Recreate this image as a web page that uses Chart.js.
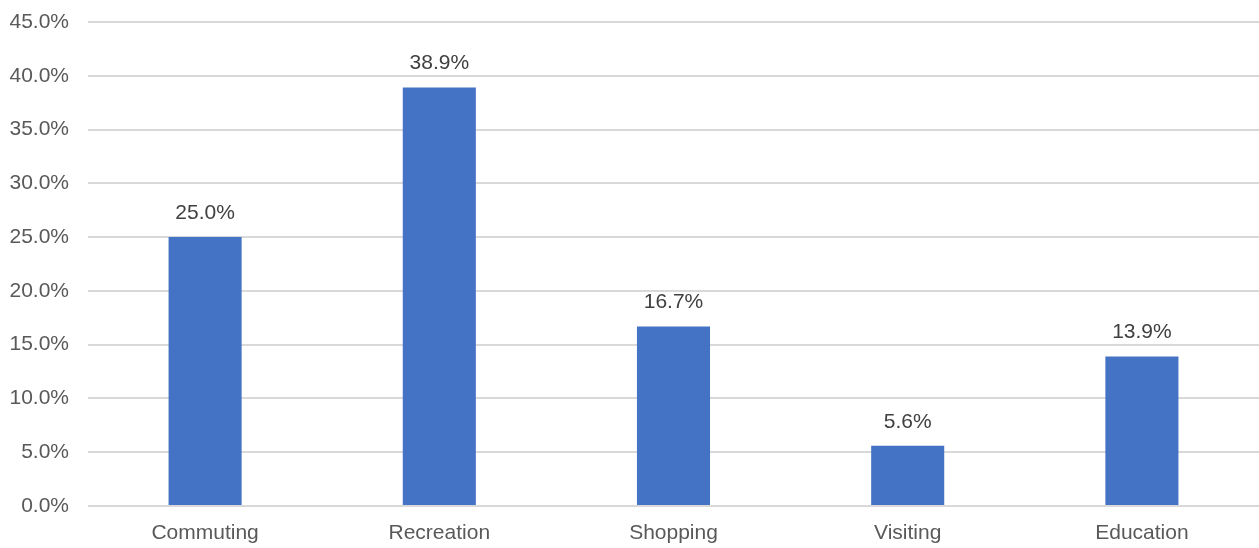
<!DOCTYPE html>
<html>
<head>
<meta charset="utf-8">
<script src="https://cdn.jsdelivr.net/npm/chart.js@4/dist/chart.umd.min.js"></script>
<style>
  html, body { margin: 0; padding: 0; background: #fff; }
  #wrap { width: 1259px; height: 548px; }
</style>
</head>
<body>
<div id="wrap"><canvas id="barChart"></canvas></div>
<script>
// Chart data
const categories = ['Commuting', 'Recreation', 'Shopping', 'Visiting', 'Education'];
const shares = [25.0, 38.9, 16.7, 5.6, 13.9];
const yTicks = [0, 5, 10, 15, 20, 25, 30, 35, 40, 45];

const fontFamily = '"Liberation Sans", Arial, sans-serif';

// Draw the value labels above each bar
const valueLabels = {
  id: 'valueLabels',
  afterDatasetsDraw(chart) {
    const ctx = chart.ctx;
    const meta = chart.getDatasetMeta(0);
    ctx.save();
    ctx.font = '21px ' + fontFamily;
    ctx.fillStyle = '#404040';
    ctx.textAlign = 'center';
    ctx.textBaseline = 'middle';
    meta.data.forEach((bar, i) => {
      ctx.fillText(shares[i].toFixed(1) + '%', bar.x, bar.y - 24);
    });
    ctx.restore();
  }
};

const ctx = document.getElementById('barChart').getContext('2d');
new Chart(ctx, {
  type: 'bar',
  data: {
    labels: categories,
    datasets: [{
      data: shares,
      backgroundColor: '#4472C4',
      borderWidth: 0,
      barPercentage: 0.312,
      categoryPercentage: 1
    }]
  },
  options: {
    responsive: true,
    maintainAspectRatio: false,
    animation: false,
    layout: { padding: { top: 22, right: 0, left: 0, bottom: 0 } },
    plugins: {
      legend: { display: false },
      tooltip: { enabled: false }
    },
    scales: {
      x: {
        grid: { display: false },
        border: { display: false },
        ticks: {
          color: '#595959',
          font: { family: fontFamily, size: 21 },
          padding: 7,
          maxRotation: 0
        },
        afterFit(scale) { scale.height = 42; }
      },
      y: {
        min: 0,
        max: 45,
        afterBuildTicks(scale) { scale.ticks = yTicks.map(v => ({ value: v })); },
        grid: { color: '#D9D9D9', lineWidth: 2, drawTicks: false },
        border: { display: false },
        ticks: {
          color: '#595959',
          font: { family: fontFamily, size: 21 },
          padding: 19,
          callback: v => v.toFixed(1) + '%'
        },
        afterFit(scale) {
          scale.width = 88;
          scale.paddingTop = 0;
          scale.paddingBottom = 0;
        }
      }
    }
  },
  plugins: [valueLabels]
});
</script>
</body>
</html>
